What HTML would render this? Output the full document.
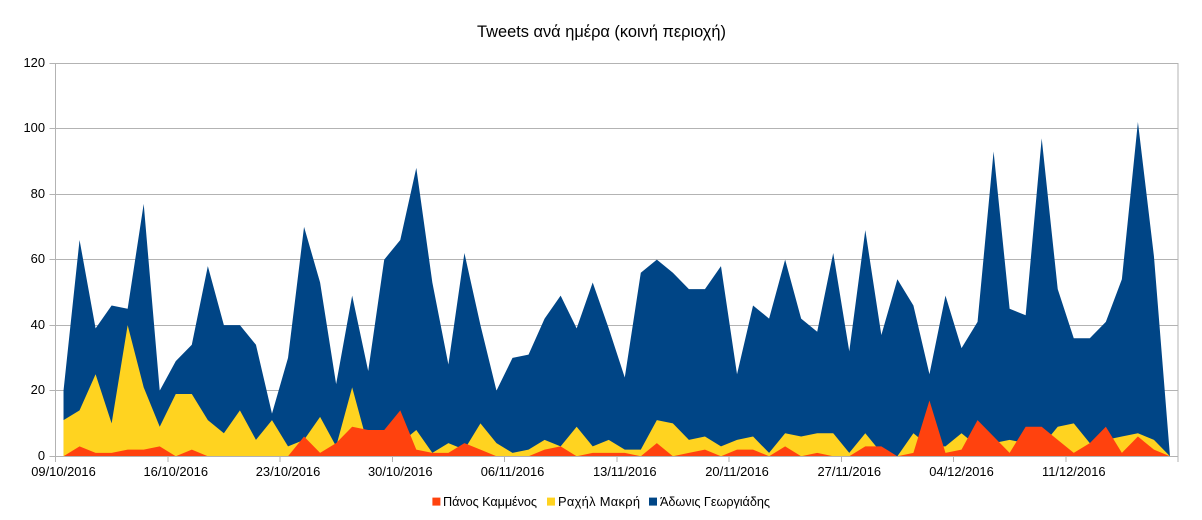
<!DOCTYPE html>
<html lang="el">
<head>
<meta charset="utf-8">
<title>Tweets ανά ημέρα (κοινή περιοχή)</title>
<style>
html,body{margin:0;padding:0;background:#fff;width:1202px;height:520px;overflow:hidden}
svg{display:block;font-family:"Liberation Sans","DejaVu Sans",sans-serif;fill:#000}
</style>
</head>
<body>
<svg id="chart" xmlns="http://www.w3.org/2000/svg" width="1202" height="520" viewBox="0 0 1202 520">
  <text x="601.5" y="37" text-anchor="middle" font-size="16.4">Tweets ανά ημέρα (κοινή περιοχή)</text>
  <g id="grid"></g>
  <g id="areas"></g>
  <g id="axes"></g>
  <g id="legend">
    <g>
      <rect x="432.4" y="497.6" width="8" height="8" fill="#ff420e"></rect>
      <text x="443" y="506" font-size="12.7" textLength="94" lengthAdjust="spacing">Πάνος Καμμένος</text>
    </g>
    <g>
      <rect x="547" y="497.6" width="8" height="8" fill="#ffd320"></rect>
      <text x="558" y="506" font-size="12.9" textLength="82" lengthAdjust="spacing">Ραχήλ Μακρή</text>
    </g>
    <g>
      <rect x="649" y="497.6" width="8" height="8" fill="#004586"></rect>
      <text x="660" y="506" font-size="12.7" textLength="110" lengthAdjust="spacing">Άδωνις Γεωργιάδης</text>
    </g>
  </g>
</svg>
<script>
var categories = ["09/10/2016","10/10/2016","11/10/2016","12/10/2016","13/10/2016","14/10/2016","15/10/2016",
"16/10/2016","17/10/2016","18/10/2016","19/10/2016","20/10/2016","21/10/2016","22/10/2016",
"23/10/2016","24/10/2016","25/10/2016","26/10/2016","27/10/2016","28/10/2016","29/10/2016",
"30/10/2016","31/10/2016","01/11/2016","02/11/2016","03/11/2016","04/11/2016","05/11/2016",
"06/11/2016","07/11/2016","08/11/2016","09/11/2016","10/11/2016","11/11/2016","12/11/2016",
"13/11/2016","14/11/2016","15/11/2016","16/11/2016","17/11/2016","18/11/2016","19/11/2016",
"20/11/2016","21/11/2016","22/11/2016","23/11/2016","24/11/2016","25/11/2016","26/11/2016",
"27/11/2016","28/11/2016","29/11/2016","30/11/2016","01/12/2016","02/12/2016","03/12/2016",
"04/12/2016","05/12/2016","06/12/2016","07/12/2016","08/12/2016","09/12/2016","10/12/2016",
"11/12/2016","12/12/2016","13/12/2016","14/12/2016","15/12/2016","16/12/2016","17/12/2016"];
var georgiadis = [20,66,39,46,45,77,20,29,34,58,40,40,34,13,30,70,53,22,49,26,60,66,88,53,28,62,40,20,30,31,42,49,39,53,39,24,56,60,56,51,51,58,25,46,42,60,42,38,62,32,69,37,54,46,25,49,33,41,93,45,43,97,51,36,36,41,54,102,61,0];
var makri = [11,14,25,10,40,21,9,19,19,11,7,14,5,11,3,5,12,3,21,3,3,4,8,1,4,2,10,4,1,2,5,3,9,3,5,2,2,11,10,5,6,3,5,6,1,7,6,7,7,1,7,1,0,7,3,3,7,3,4,5,4,3,9,10,4,5,6,7,5,0];
var kammenos = [0,3,1,1,2,2,3,0,2,0,0,0,0,0,0,6,1,4,9,8,8,14,2,1,1,4,2,0,0,0,2,3,0,1,1,1,0,4,0,1,2,0,2,2,0,3,0,1,0,0,3,3,0,1,17,1,2,11,6,1,9,9,5,1,4,9,1,6,2,0];
var yTicks = [0,20,40,60,80,100,120];
var xTickEvery = 7;

var NS = "http://www.w3.org/2000/svg";
var plotLeft = 55.5, plotRight = 1178, plotBottom = 456.2, plotTop = 63;
var yMax = 120;
var slotWidth = (plotRight - plotLeft) / categories.length;

function xScale(i) { return plotLeft + slotWidth * (i + 0.5); }
function yScale(v) { return plotBottom - (v / yMax) * (plotBottom - plotTop); }
function make(tag, attrs, parent) {
  var el = document.createElementNS(NS, tag);
  for (var k in attrs) el.setAttribute(k, attrs[k]);
  parent.appendChild(el);
  return el;
}

var grid = document.getElementById("grid");
var axes = document.getElementById("axes");
var areas = document.getElementById("areas");
var axisColor = "#b3b3b3";

yTicks.forEach(function (t) {
  var y = Math.floor(yScale(t)) + 0.5;
  var line = make("line", { x1: plotLeft, x2: plotRight, y1: y, y2: y, stroke: axisColor, "stroke-width": 1, "shape-rendering": "crispEdges" }, grid);
  
  
  var tick = make("line", { x1: plotLeft - 6, x2: plotLeft, y1: y, y2: y, stroke: axisColor, "stroke-width": 1, "shape-rendering": "crispEdges" }, axes);
  
  
  var label = make("text", { x: 45, y: y + 3.5, "text-anchor": "end", "font-size": 12.9 }, axes);
  
  
  label.textContent = String(t);
});

function drawArea(values, color, name) {
  var pts = [[xScale(0), yScale(0)]];
  values.forEach(function (v, i) { pts.push([xScale(i), yScale(v)]); });
  pts.push([xScale(values.length - 1), yScale(0)]);
  var d = pts.map(function (p) { return p[0].toFixed(2) + "," + p[1].toFixed(2); }).join(" ");
  var poly = make("polygon", { points: d, fill: color }, areas);
  
  
}
drawArea(georgiadis, "#004586", "area-georgiadis");
drawArea(makri, "#ffd320", "area-makri");
drawArea(kammenos, "#ff420e", "area-kammenos");

var yAxis = make("line", { x1: plotLeft, x2: plotLeft, y1: plotTop, y2: plotBottom + 6, stroke: axisColor, "stroke-width": 1, "shape-rendering": "crispEdges" }, axes);


var rightEdge = make("line", { x1: plotRight, x2: plotRight, y1: plotTop, y2: plotBottom + 6, stroke: axisColor, "stroke-width": 1, "shape-rendering": "crispEdges" }, axes);


var xAxis = make("line", { x1: plotLeft, x2: plotRight, y1: Math.floor(plotBottom) + 0.5, y2: Math.floor(plotBottom) + 0.5, stroke: axisColor, "stroke-width": 1, "shape-rendering": "crispEdges" }, axes);



categories.forEach(function (c, i) {
  if (i % xTickEvery !== 0) return;
  var x = plotLeft + slotWidth * i;
  var tick = make("line", { x1: x, x2: x, y1: plotBottom, y2: plotBottom + 6, stroke: axisColor, "stroke-width": 1, "shape-rendering": "crispEdges" }, axes);
  
  
  var label = make("text", { x: xScale(i), y: 476, "text-anchor": "middle", "font-size": 12.9 }, axes);
  
  
  label.textContent = c;
});
</script>
</body>
</html>
